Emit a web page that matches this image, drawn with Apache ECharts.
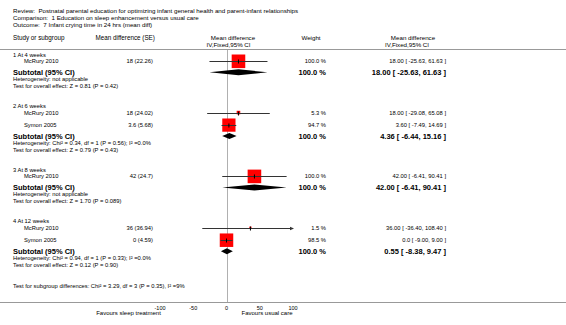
<!DOCTYPE html>
<html><head><meta charset="utf-8">
<script src="https://cdn.jsdelivr.net/npm/echarts@6/dist/echarts.min.js"></script>
<style>html,body{margin:0;padding:0;background:#fff}#c{width:566px;height:325px}</style>
</head><body><div id="c"></div>
<script>
// ---------- data ----------
const titleLines = [
  'Review:  Postnatal parental education for optimizing infant general health and parent-infant relationships',
  'Comparison:  1 Education on sleep enhancement versus usual care',
  'Outcome:  7 Infant crying time in 24 hrs (mean diff)'
];
const groupNames = ['1 At 4 weeks', '2 At 6 weeks', '3 At 8 weeks', '4 At 12 weeks'];
const studyNames = [['McRury 2010'], ['McRury 2010', 'Symon 2005'], ['McRury 2010'], ['McRury 2010', 'Symon 2005']];
const studyMD = [[18], [18, 3.6], [42], [36, 0]];
const studySE = [['22.26'], ['24.02', '5.68'], ['24.7'], ['36.94', '4.59']];
const studyLo = [[-25.63], [-29.08, -7.49], [-6.41], [-36.40, -9.00]];
const studyHi = [[61.63], [65.08, 14.69], [90.41], [108.40, 9.00]];
const studyWeight = [[100.0], [5.3, 94.7], [100.0], [1.5, 98.5]];
const studyCIText = [
  ['18.00 [ -25.63, 61.63 ]'],
  ['18.00 [ -29.08, 65.08 ]', '3.60 [ -7.49, 14.69 ]'],
  ['42.00 [ -6.41, 90.41 ]'],
  ['36.00 [ -36.40, 108.40 ]', '0.0 [ -9.00, 9.00 ]']
];
const subMD = [18.00, 4.36, 42.00, 0.55];
const subLo = [-25.63, -6.44, -6.41, -8.38];
const subHi = [61.63, 15.16, 90.41, 9.47];
const subWeight = [100.0, 100.0, 100.0, 100.0];
const hetText = [
  'Heterogeneity: not applicable',
  'Heterogeneity: Chi² = 0.34, df = 1 (P = 0.56); I² =0.0%',
  'Heterogeneity: not applicable',
  'Heterogeneity: Chi² = 0.94, df = 1 (P = 0.33); I² =0.0%'
];
const effectText = [
  'Test for overall effect: Z = 0.81 (P = 0.42)',
  'Test for overall effect: Z = 0.79 (P = 0.43)',
  'Test for overall effect: Z = 1.70 (P = 0.089)',
  'Test for overall effect: Z = 0.12 (P = 0.90)'
];
const subgroupTest = 'Test for subgroup differences: Chi² = 3.29, df = 3 (P = 0.35), I² =9%';
const xTicks = [-100, -50, 0, 50, 100];
const favoursLeft = 'Favours sleep treatment';
const favoursRight = 'Favours usual care';

// ---------- layout ----------
const FONT = '"Liberation Sans", Arial, Helvetica, sans-serif';
const X_MIN = xTicks[0], X_MAX = xTicks[xTicks.length - 1];
const AXIS_Y = 302;
const rows = [];
let y = 55;
const studyPts = [], diamondPts = [];
groupNames.forEach((g, gi) => {
  rows.push({kind: 'group', y, text: g});
  y += 6.3;
  studyNames[gi].forEach((s, si) => {
    if (si > 0) y += 12.5;
    rows.push({kind: 'study', y, gi, si});
    studyPts.push([studyMD[gi][si], y, studyLo[gi][si], studyHi[gi][si], studyWeight[gi][si]]);
  });
  y += 11;
  rows.push({kind: 'sub', y, gi});
  diamondPts.push([subMD[gi], y, subLo[gi], subHi[gi]]);
  y += 7;
  rows.push({kind: 'note', y, text: hetText[gi]});
  y += 7;
  rows.push({kind: 'note', y, text: effectText[gi]});
  y += 20;
});
const subgroupY = y - 20 + 21;

function txt(text, x, yy, size, align, bold) {
  return {
    type: 'text', silent: true,
    style: {
      text, x, y: yy, fill: '#000',
      fontSize: size, fontFamily: FONT, fontWeight: bold ? 'bold' : 'normal',
      align: align, textAlign: align, verticalAlign: 'middle', textVerticalAlign: 'middle'
    }
  };
}
const graphics = [];
graphics.push(txt(titleLines[0], 13, 10.5, 6.2, 'left'));
graphics.push(txt(titleLines[1], 13, 17.6, 6.2, 'left'));
graphics.push(txt(titleLines[2], 13, 24.4, 6.2, 'left'));
graphics.push(txt('Study or subgroup', 13, 37.8, 6.3, 'left'));
graphics.push(txt('Mean difference (SE)', 95.5, 37.8, 6.3, 'left'));
graphics.push(txt('Mean difference', 233, 37.5, 6.2, 'center'));
graphics.push(txt('IV,Fixed,95% CI', 228.5, 44, 6.2, 'center'));
graphics.push(txt('Weight', 311, 37.5, 6.2, 'center'));
graphics.push(txt('Mean difference', 413, 37.5, 6.2, 'center'));
graphics.push(txt('IV,Fixed,95% CI', 407, 44, 6.2, 'center'));
graphics.push({type: 'line', silent: true, shape: {x1: 0, y1: 49.5, x2: 566, y2: 49.5}, style: {stroke: '#999', lineWidth: 1}});
graphics.push({type: 'line', silent: true, shape: {x1: 0, y1: AXIS_Y + 0.5, x2: 566, y2: AXIS_Y + 0.5}, style: {stroke: '#999', lineWidth: 1}});

rows.forEach(r => {
  if (r.kind === 'group' || r.kind === 'note') {
    graphics.push(txt(r.text, 13, r.y, 5.8, 'left'));
  } else if (r.kind === 'study') {
    const gi = r.gi, si = r.si;
    graphics.push(txt(studyNames[gi][si], 24, r.y, 5.8, 'left'));
    graphics.push(txt(String(studyMD[gi][si]) + ' (' + studySE[gi][si] + ')', 153, r.y, 5.8, 'right'));
    graphics.push(txt(studyWeight[gi][si].toFixed(1) + ' %', 326, r.y, 5.8, 'right'));
    graphics.push(txt(studyCIText[gi][si], 446, r.y, 5.8, 'right'));
  } else if (r.kind === 'sub') {
    const gi = r.gi;
    graphics.push(txt('Subtotal (95% CI)', 13, r.y, 7.5, 'left', true));
    graphics.push(txt(subWeight[gi].toFixed(1) + ' %', 326, r.y, 7.5, 'right', true));
    graphics.push(txt(subMD[gi].toFixed(2) + ' [ ' + subLo[gi].toFixed(2) + ', ' + subHi[gi].toFixed(2) + ' ]', 446, r.y, 7.5, 'right', true));
  }
});
graphics.push(txt(subgroupTest, 13, subgroupY, 5.8, 'left'));
graphics.push(txt(favoursLeft, 128.5, 312.8, 6, 'center'));
graphics.push(txt(favoursRight, 267, 312.8, 6, 'center'));

// ---------- chart ----------
const chart = echarts.init(document.getElementById('c'), null, {renderer: 'svg'});

function renderStudy(params, api) {
  const md = api.value(0), yy = api.value(1), lo = api.value(2), hi = api.value(3), w = api.value(4);
  const p = api.coord([md, yy]);
  const pl = api.coord([Math.max(lo, X_MIN), yy]);
  const ph = api.coord([Math.min(hi, X_MAX), yy]);
  const side = 13 * Math.sqrt(w / 100) + 0.6;
  const cy = Math.round(p[1]) + 0.5;
  const ch = [
    {type: 'rect', shape: {x: p[0] - side / 2, y: p[1] - side / 2, width: side, height: side}, style: {fill: '#ff0000'}},
    {type: 'line', shape: {x1: pl[0], y1: cy, x2: ph[0], y2: cy}, style: {stroke: '#333', lineWidth: 1}},
    {type: 'line', shape: {x1: p[0], y1: cy - 2, x2: p[0], y2: cy + 2}, style: {stroke: '#000', lineWidth: 1}}
  ];
  if (hi > X_MAX) ch.push({type: 'polygon', shape: {points: [[ph[0] + 1, cy], [ph[0] - 3, cy - 1.8], [ph[0] - 3, cy + 1.8]]}, style: {fill: '#333'}});
  if (lo < X_MIN) ch.push({type: 'polygon', shape: {points: [[pl[0] - 1, cy], [pl[0] + 3, cy - 1.8], [pl[0] + 3, cy + 1.8]]}, style: {fill: '#333'}});
  return {type: 'group', children: ch};
}
function renderDiamond(params, api) {
  const md = api.value(0), yy = api.value(1), lo = api.value(2), hi = api.value(3);
  const p = api.coord([md, yy]);
  const pl = api.coord([lo, yy]);
  const ph = api.coord([hi, yy]);
  return {type: 'polygon', shape: {points: [[pl[0], p[1]], [p[0], p[1] - 3], [ph[0], p[1]], [p[0], p[1] + 3]]}, style: {fill: '#000'}};
}
function renderZero(params, api) {
  const a = api.coord([api.value(0), api.value(1)]);
  const b = api.coord([api.value(0), api.value(2)]);
  const x = Math.round(a[0]) + 0.5;
  return {type: 'line', shape: {x1: x, y1: a[1], x2: x, y2: b[1]}, style: {stroke: '#b0b0b0', lineWidth: 1}};
}

chart.setOption({
  animation: false,
  backgroundColor: '#fff',
  grid: {left: 160, right: 273, top: 0, bottom: 325 - AXIS_Y, containLabel: false},
  xAxis: {
    type: 'value', min: X_MIN, max: X_MAX, interval: 50,
    axisLine: {show: false},
    axisTick: {show: true, inside: true, length: 3, lineStyle: {color: '#666', width: 1}},
    axisLabel: {show: true, fontSize: 5.5, color: '#000', fontFamily: FONT, margin: 2.5,
      formatter: v => xTicks.indexOf(v) >= 0 ? String(v) : ''},
    splitLine: {show: false}
  },
  yAxis: {type: 'value', min: 0, max: AXIS_Y, inverse: true, show: false},
  graphic: graphics,
  series: [
    {type: 'custom', renderItem: renderZero, data: [[0, 50, AXIS_Y]], clip: false, silent: true, z: 1},
    {type: 'custom', renderItem: renderStudy, data: studyPts, clip: false, silent: true, z: 3},
    {type: 'custom', renderItem: renderDiamond, data: diamondPts, clip: false, silent: true, z: 3}
  ]
});
</script>
</body></html>
